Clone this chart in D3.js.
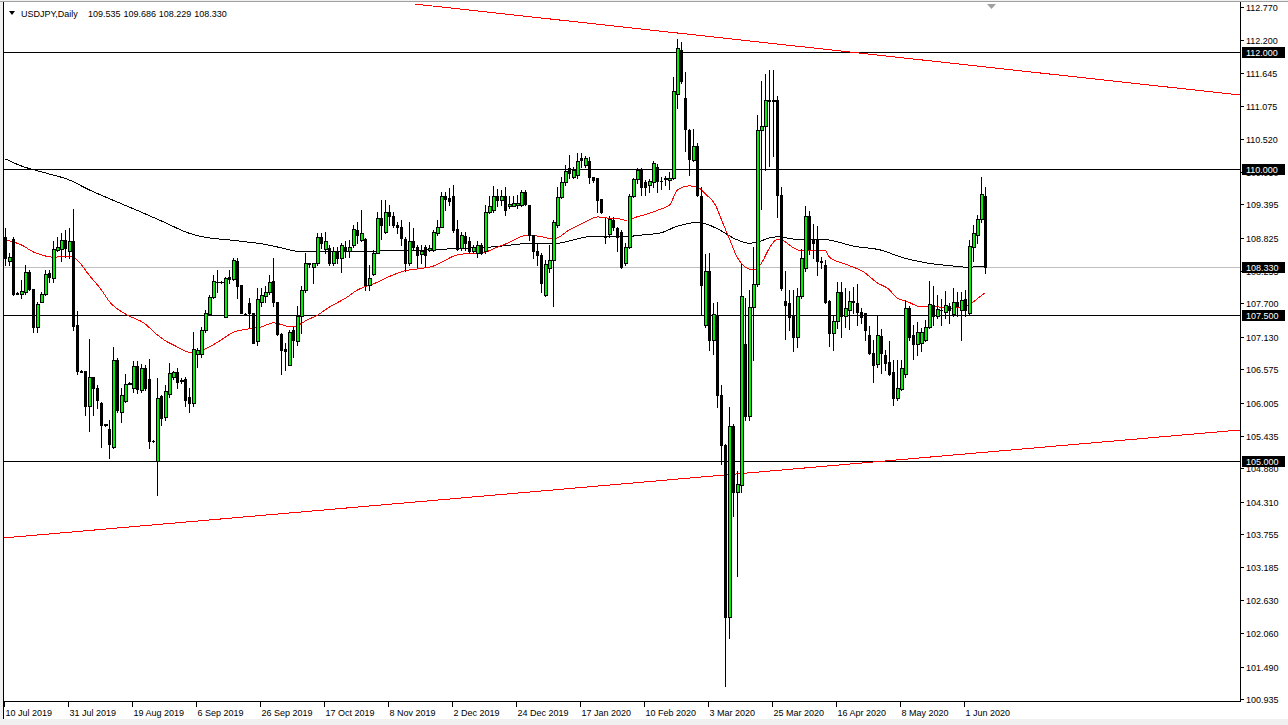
<!DOCTYPE html>
<html><head><meta charset="utf-8">
<script src="https://cdn.jsdelivr.net/npm/d3@7"></script>
<style>body{margin:0;background:#fff}svg{display:block}text{font-family:"Liberation Sans",Arial,sans-serif;font-size:9px}</style>
</head><body><svg id="c" width="1288" height="725"></svg>
<script>
// ---- data ----
const symbolTitle = "USDJPY,Daily";
const headerValues = ["109.535", "109.686", "108.229", "108.330"];
// daily candles [open, high, low, close]
const ohlc = [
[108.84,108.99,108.36,108.47],[108.42,108.56,108.36,108.50],[108.81,108.84,107.85,107.87],[107.88,107.89,107.86,107.87],
[107.87,108.10,107.79,107.91],[107.90,108.36,107.87,108.23],[108.23,108.27,107.93,107.94],[107.94,107.94,107.21,107.29],
[107.29,107.73,107.22,107.685],[107.73,107.90,107.72,107.86],[107.86,108.27,107.85,108.21],[108.22,108.27,108.06,108.16],
[108.13,108.76,108.06,108.63],[108.62,108.84,108.59,108.66],[108.63,108.90,108.42,108.79],[108.79,108.96,108.50,108.64],
[108.59,108.99,108.47,108.77],[108.77,109.32,107.25,107.32],[107.33,107.57,106.50,106.55],[106.55,106.56,106.52,106.53],
[106.55,106.55,105.79,105.94],[105.94,107.09,105.51,106.45],[106.45,106.45,105.79,106.25],[106.26,106.30,105.91,106.05],
[105.99,106.02,105.25,105.62],[105.62,105.64,105.61,105.63],[105.55,105.71,105.05,105.29],[105.25,106.96,105.22,106.74],
[106.73,106.76,105.85,105.88],[105.84,106.25,105.68,106.14],[106.03,106.49,106.02,106.33],[106.33,106.35,106.32,106.34],
[106.25,106.71,106.19,106.63],[106.63,106.71,106.16,106.23],[106.22,106.67,106.19,106.60],[106.60,106.65,106.22,106.25],
[106.40,106.75,105.22,105.35],[105.35,105.36,105.33,105.34],[105.00,106.42,104.43,106.08],[106.11,106.14,105.62,105.74],
[105.75,106.30,105.70,106.20],[106.15,106.69,106.10,106.51],[106.45,106.55,106.40,106.52],[106.52,106.60,106.25,106.35],
[106.38,106.42,106.34,106.39],[106.40,106.45,105.95,106.05],[106.10,106.25,105.85,106.00],[106.00,107.22,105.95,106.92],
[106.83,106.93,106.62,106.90],[106.84,107.30,106.79,107.24],[107.24,107.59,107.22,107.53],[107.52,107.85,107.50,107.81],
[107.81,108.19,107.79,108.09],[108.06,108.27,107.90,108.07],[108.06,108.08,108.05,108.07],[107.46,108.16,107.46,108.14],
[108.16,108.27,108.05,108.11],[108.11,108.47,108.10,108.44],[108.42,108.47,107.79,108.00],[108.02,108.02,107.53,107.54],
[107.52,107.53,107.51,107.52],[107.70,107.79,107.30,107.53],[107.53,107.53,107.02,107.03],[107.05,107.96,106.99,107.78],
[107.73,107.96,107.65,107.85],[107.82,107.99,107.73,107.89],[107.89,108.19,107.87,108.06],[108.08,108.47,107.65,107.73],
[107.73,107.73,107.16,107.17],[107.18,107.19,106.50,106.90],[106.92,107.02,106.56,106.88],[106.65,107.25,106.64,107.21],
[107.25,107.30,106.79,107.08],[107.05,107.65,106.99,107.49],[107.48,107.99,107.19,107.93],[107.93,108.56,107.90,108.39],
[108.39,108.39,108.33,108.38],[108.33,108.40,108.05,108.39],[108.39,108.90,108.36,108.84],[108.84,108.90,108.64,108.74],
[108.63,108.93,108.56,108.77],[108.64,108.70,108.35,108.39],[108.39,108.67,108.36,108.59],[108.59,108.67,108.39,108.47],
[108.47,108.73,108.24,108.70],[108.67,108.76,108.50,108.61],[108.59,108.79,108.50,108.67],[108.70,109.04,108.67,108.97],
[108.96,109.10,108.73,108.87],[108.79,109.30,108.76,108.90],[108.80,108.82,107.93,108.02],[108.02,108.36,107.93,108.14],
[108.21,108.62,108.19,108.57],[108.57,109.27,108.56,109.16],[109.16,109.47,108.81,109.04],[108.93,109.47,108.90,109.27],
[109.27,109.38,109.04,109.19],[109.19,109.27,109.01,109.04],[109.04,109.10,108.90,109.00],[109.00,109.13,108.70,108.82],
[108.80,108.84,108.25,108.39],[108.39,109.10,108.36,108.77],[108.77,108.99,108.61,108.67],[108.67,108.70,108.33,108.53],
[108.55,108.70,108.39,108.60],[108.67,108.70,108.33,108.53],[108.62,108.70,108.59,108.64],[108.61,108.96,108.60,108.93],
[108.90,109.13,108.87,109.01],[109.01,109.61,109.00,109.53],[109.53,109.61,109.30,109.48],[109.50,109.67,109.38,109.45],
[109.53,109.73,108.93,108.96],[108.97,109.13,108.62,108.63],[108.64,108.93,108.61,108.87],[108.85,108.93,108.61,108.73],
[108.76,108.84,108.57,108.59],[108.59,108.70,108.56,108.67],[108.56,108.76,108.50,108.70],[108.70,108.74,108.55,108.56],
[108.59,109.38,108.56,109.27],[109.27,109.53,109.24,109.36],[109.30,109.71,109.27,109.54],[109.53,109.65,109.36,109.47],
[109.47,109.64,109.38,109.53],[109.53,109.70,109.21,109.30],[109.36,109.53,109.33,109.40],[109.37,109.53,109.36,109.42],
[109.38,109.56,109.33,109.42],[109.38,109.64,109.36,109.60],[109.60,109.64,109.39,109.40],[109.38,109.39,108.79,108.87],
[108.87,108.87,108.47,108.59],[108.60,108.73,108.36,108.53],[108.53,108.56,107.90,108.05],[107.85,108.44,107.82,108.38],
[108.30,108.70,108.24,108.44],[108.44,109.13,107.65,109.10],[109.04,109.70,109.01,109.52],[109.52,109.87,109.50,109.78],
[109.78,110.07,109.73,109.96],[110.01,110.24,109.84,109.93],[109.87,110.04,109.84,109.98],[109.90,110.27,109.84,110.13],
[110.18,110.28,110.04,110.15],[110.07,110.22,110.04,110.18],[110.13,110.21,109.76,109.86],[109.86,109.87,109.78,109.81],
[109.84,109.84,109.27,109.47],[109.48,109.48,109.24,109.27],[108.85,109.16,108.73,108.83],[108.88,109.19,108.84,109.14],
[109.13,109.17,108.96,109.01],[108.99,109.01,108.59,108.84],[108.93,108.96,108.30,108.33],[108.39,108.73,108.36,108.66],
[108.66,109.58,108.64,109.54],[109.53,109.84,109.52,109.82],[109.82,110.01,109.76,109.99],[109.99,110.01,109.56,109.70],
[109.77,109.81,109.56,109.70],[109.73,109.82,109.61,109.80],[109.78,110.13,109.70,110.10],[110.03,110.09,109.61,109.80],
[109.80,109.87,109.66,109.80],[109.83,109.88,109.72,109.84],[109.81,109.94,109.65,109.85],[109.85,111.58,109.83,111.33],
[111.29,112.22,111.04,112.07],[112.04,112.17,111.47,111.51],[111.22,111.66,110.31,110.69],[110.66,110.69,109.90,110.17],
[110.15,110.69,110.13,110.39],[110.39,110.44,109.54,109.56],[109.54,109.69,107.50,108.01],[107.33,108.55,107.30,108.26],
[108.25,108.57,106.91,107.08],[107.08,107.71,106.84,107.52],[107.50,107.72,105.93,106.13],[106.13,106.31,104.96,105.28],
[105.28,105.30,101.15,102.33],[102.33,105.93,101.97,105.60],[105.60,105.64,104.07,104.47],[104.47,104.83,103.04,104.61],
[104.60,108.37,104.48,107.82],[107.01,107.79,105.70,105.78],[105.78,107.93,105.71,107.64],[107.64,108.66,106.73,108.03],
[108.03,110.93,108.00,110.66],[110.66,111.51,109.32,110.73],[110.73,111.62,109.98,111.18],[111.18,111.69,110.05,111.17],
[111.17,111.69,110.23,111.18],[111.18,111.25,109.17,109.56],[109.56,109.69,107.93,107.96],[107.74,108.26,107.09,107.68],
[107.71,107.93,107.24,107.47],[107.50,107.93,106.89,107.13],[107.13,107.97,106.95,107.82],[107.82,108.63,107.79,108.48],
[108.30,109.36,108.26,109.19],[109.19,109.28,108.55,108.63],[108.79,109.06,108.48,108.74],[108.79,109.03,108.19,108.42],
[108.43,108.50,108.30,108.41],[108.36,108.44,107.71,107.73],[107.75,107.76,106.97,107.20],[107.20,107.48,106.91,107.40],
[107.40,108.07,107.28,107.89],[107.89,108.07,107.13,107.49],[107.49,107.96,107.30,107.62],[107.59,107.92,107.27,107.75],
[107.74,107.98,107.53,107.73],[107.70,108.04,107.33,107.56],[107.56,107.62,107.36,107.46],[107.53,107.53,107.08,107.24],
[107.16,107.32,106.84,106.86],[106.86,107.08,106.35,106.65],[106.67,107.50,106.62,107.16],[107.14,107.27,106.51,106.86],
[106.82,106.91,106.56,106.69],[106.70,107.05,106.48,106.50],[106.53,106.73,105.96,106.08],[106.08,106.73,106.05,106.25],
[106.23,106.74,106.22,106.59],[106.50,107.76,106.45,107.63],[107.62,107.66,107.08,107.13],[107.16,107.33,106.75,107.01],
[107.01,107.39,106.82,107.22],[107.03,107.28,106.89,107.22],[107.08,107.42,107.05,107.29],[107.29,108.08,107.28,107.69],
[107.67,107.99,107.33,107.49],[107.49,107.85,107.45,107.60],[107.59,107.77,107.33,107.58],[107.56,107.92,107.45,107.67],
[107.66,107.70,107.36,107.58],[107.52,107.96,107.48,107.73],[107.73,107.90,107.48,107.65],[107.59,107.89,107.08,107.76],
[107.77,107.93,107.48,107.58],[107.53,108.79,107.50,108.68],[108.66,109.04,108.42,108.90],[108.87,109.21,108.73,109.14],
[109.14,109.87,109.10,109.57],[109.535,109.686,108.229,108.330]
];
// moving averages: [bar index, price]
const maRed = [[0,108.79],[4,108.70],[7,108.58],[9,108.53],[12,108.49],[15.5,108.51],[17,108.49],[19,108.36],[20.5,108.22],[24,107.93],[26,107.73],[30.5,107.50],[34.5,107.37],[38,107.16],[40,107.06],[42,106.99],[45.5,106.87],[47,106.85],[50.5,106.94],[54,107.08],[57,107.21],[60.5,107.26],[64,107.30],[67,107.37],[70.5,107.31],[72,107.30],[75.5,107.42],[78,107.50],[81,107.64],[85,107.79],[88,107.93],[92.5,108.05],[97,108.19],[100,108.26],[103,108.29],[107,108.34],[110,108.44],[112,108.51],[115,108.55],[119,108.56],[122.5,108.65],[125.5,108.73],[130.5,108.87],[134,108.84],[137,108.80],[141,108.96],[144.5,109.08],[148,109.18],[150.5,109.16],[154,109.14],[155.5,109.11],[157,109.16],[160.5,109.23],[164,109.32],[166,109.38],[168,109.64],[171,109.71],[173,109.69],[175,109.57],[177.5,109.38],[179,109.13],[181,108.80],[183,108.48],[185,108.32],[187,108.27],[189,108.39],[191,108.65],[193,108.80],[194.5,108.77],[197,108.65],[199,108.60],[202.5,108.61],[205,108.60],[206,108.49],[210.5,108.36],[214.5,108.24],[218,108.05],[220.5,107.96],[223,107.79],[225.5,107.73],[229,107.64],[233,107.64],[237,107.62],[239.5,107.64],[242,107.73],[244.5,107.86],[245,107.88]];
const maBlack = [[0,110.17],[4,110.05],[9,109.95],[16,109.81],[21,109.64],[25,109.52],[34,109.26],[40,109.08],[45.5,108.91],[51,108.82],[55.5,108.79],[60.5,108.75],[64,108.72],[69,108.65],[72,108.60],[75.5,108.58],[81,108.58],[87.5,108.58],[97,108.61],[103,108.61],[110,108.63],[117,108.65],[122.5,108.67],[129.5,108.72],[138,108.73],[146,108.84],[154.5,108.84],[159,108.87],[164,108.91],[167.5,109.01],[172.5,109.08],[175,109.06],[179,108.94],[182.5,108.80],[186,108.73],[188,108.75],[191,108.82],[193,108.84],[197,108.80],[200,108.79],[205,108.79],[212,108.68],[219,108.61],[224,108.49],[230.5,108.39],[237,108.34],[240.5,108.32],[245,108.34]];
// horizontal levels, bid line, trend lines
const levels = [112.000, 110.000, 107.500, 105.000];
const bidPrice = 108.330;
const trendUpper = [[102.5,112.82],[308.75,111.265]];
const trendLower = [[-0.25,103.69],[308.75,105.536]];
// axis ticks
const priceTicks = ["112.770","112.200","111.645","111.075","110.520","109.950","109.395","108.825","108.255","107.700","107.130","106.575","106.005","105.435","104.880","104.310","103.755","103.185","102.630","102.060","101.490","100.935"];
const dateLabels = ["10 Jul 2019","31 Jul 2019","19 Aug 2019","6 Sep 2019","26 Sep 2019","17 Oct 2019","8 Nov 2019","2 Dec 2019","24 Dec 2019","17 Jan 2020","10 Feb 2020","3 Mar 2020","25 Mar 2020","16 Apr 2020","8 May 2020","1 Jun 2020"];
const dateBars = [0,16,32,48,64,80,96,112,128,144,160,176,192,208,224,240];

// ---- drawing ----
const W = 1288, H = 725;
const plotL = 4, plotR = 1240, plotT = 4, plotB = 701;
const bullFill = "#00f000";
const x = d3.scaleLinear().domain([0, ohlc.length - 1]).range([5, 5 + 4 * (ohlc.length - 1)]);
const y = d3.scaleLinear().domain([100.935, 112.770]).range([699, 7]);
const svg = d3.select("#c");

svg.append("rect").attr("width", W).attr("height", H).attr("fill", "#f0f0f0");
svg.append("rect").attr("x", 3).attr("y", 2).attr("width", W - 3).attr("height", 717).attr("fill", "#fff");
svg.append("line").attr("x1", 0).attr("x2", W).attr("y1", 1.5).attr("y2", 1.5).attr("stroke", "#a0a0a0");
svg.append("line").attr("x1", 3.5).attr("x2", 3.5).attr("y1", 2).attr("y2", 719).attr("stroke", "#000");

svg.append("defs").append("clipPath").attr("id", "clip").append("rect")
  .attr("x", plotL).attr("y", plotT).attr("width", plotR - plotL).attr("height", plotB - plotT);
const g = svg.append("g").attr("clip-path", "url(#clip)").attr("shape-rendering", "crispEdges");

const py = v => Math.round(y(v)) + 0.5;

// bid line and horizontal levels
g.append("line").attr("x1", plotL).attr("x2", plotR).attr("y1", py(bidPrice)).attr("y2", py(bidPrice)).attr("stroke", "#c0c0c0");
levels.forEach(v => g.append("line").attr("x1", plotL).attr("x2", plotR).attr("y1", py(v)).attr("y2", py(v)).attr("stroke", "#000"));

// trend lines
const tl = d3.line().x(d => x(d[0])).y(d => y(d[1]));
[trendUpper, trendLower].forEach(t => g.append("path").attr("d", tl(t)).attr("fill", "none").attr("stroke", "#ff0000"));

// moving averages
const ml = d3.line().x(d => x(d[0]) + 0.5).y(d => y(d[1])).curve(d3.curveMonotoneX);
g.append("path").attr("d", ml(maBlack)).attr("fill", "none").attr("stroke", "#000");
g.append("path").attr("d", ml(maRed)).attr("fill", "none").attr("stroke", "#ff0000");

// candles
const cg = g.append("g");
ohlc.forEach((d, i) => {
  const [o, h, l, c] = d;
  const cx = Math.round(x(i));
  const yh = Math.round(y(h)), yl = Math.round(y(l));
  cg.append("rect").attr("x", cx).attr("y", yh).attr("width", 1).attr("height", Math.max(1, yl - yh + 1)).attr("fill", "#000");
  const top = Math.round(y(Math.max(o, c))), bot = Math.round(y(Math.min(o, c)));
  const hgt = Math.max(1, bot - top + 1);
  const bull = c > o;
  cg.append("rect").attr("x", cx - 1).attr("y", top).attr("width", bull ? 4 : 3).attr("height", hgt).attr("fill", "#000");
  if (bull && hgt > 2) {
    cg.append("rect").attr("x", cx).attr("y", top + 1).attr("width", 2).attr("height", hgt - 2).attr("fill", bullFill);
  }
});

// axes
const ax = svg.append("g").attr("shape-rendering", "crispEdges");
ax.append("line").attr("x1", plotR + 0.5).attr("x2", plotR + 0.5).attr("y1", 2).attr("y2", plotB + 1).attr("stroke", "#000");
ax.append("line").attr("x1", plotL).attr("x2", plotR + 1).attr("y1", plotB + 0.5).attr("y2", plotB + 0.5).attr("stroke", "#000");

priceTicks.forEach(t => {
  const v = +t, yy = py(v);
  ax.append("line").attr("x1", plotR).attr("x2", plotR + 4).attr("y1", yy).attr("y2", yy).attr("stroke", "#000");
  svg.append("text").attr("x", plotR + 6).attr("y", Math.round(y(v)) + 4).attr("fill", "#000").text(t);
});

dateBars.forEach((b, k) => {
  const xx = Math.round(x(b)) - 0.5;
  ax.append("line").attr("x1", xx).attr("x2", xx).attr("y1", plotB).attr("y2", plotB + 6).attr("stroke", "#000");
  svg.append("text").attr("x", xx + 1).attr("y", 716).attr("fill", "#000").text(dateLabels[k]);
});

// level labels (black boxes)
levels.concat([bidPrice]).forEach(v => {
  const yy = Math.round(y(v));
  svg.append("rect").attr("x", plotR + 2).attr("y", yy - 5).attr("width", 43).attr("height", 11).attr("fill", "#000").attr("shape-rendering", "crispEdges");
  svg.append("text").attr("x", plotR + 6).attr("y", yy + 4).attr("fill", "#fff").text(v.toFixed(3));
});

// header
svg.append("path").attr("d", "M9,11 L15,11 L12,15 Z").attr("fill", "#000");
svg.append("text").attr("x", 21).attr("y", 17).attr("fill", "#000").text(symbolTitle);
headerValues.forEach((t, k) => svg.append("text").attr("x", 88 + k * 35.4).attr("y", 17).attr("fill", "#000").text(t));

// chart shift marker
svg.append("path").attr("d", "M987,4 L996,4 L991.5,9 Z").attr("fill", "#a0a0a0");
</script></body></html>
